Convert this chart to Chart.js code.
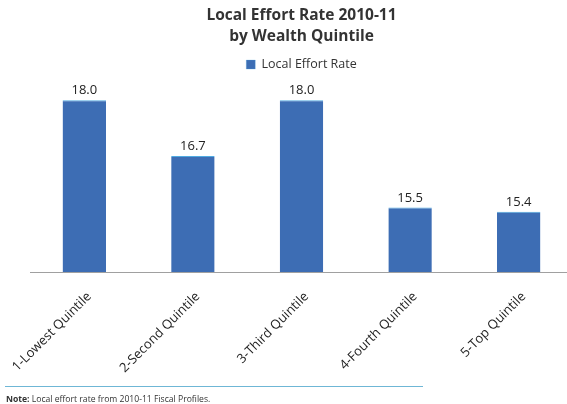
<!DOCTYPE html>
<html>
<head>
<meta charset="utf-8">
<script src="https://cdn.jsdelivr.net/npm/chart.js@4.4.1/dist/chart.umd.min.js"></script>
<style>
  html, body { margin: 0; padding: 0; background: #fff; overflow: hidden; }
  #wrap { position: relative; width: 567px; height: 404px; overflow: hidden; }
  #effortChart { position: absolute; left: 0; top: 0; }
  #note-line { position: absolute; left: 5px; top: 386px; width: 418px; height: 0; border-top: 1px solid #6fb7d6; }
  #note { position: absolute; left: 6px; top: 393px; font-family: "Open Sans", sans-serif; font-size: 8.6px; color: #333; }
</style>
</head>
<body>
<div id="wrap">
  <!-- plot runs a few px past the right edge, as in the printed figure -->
  <canvas id="effortChart" width="573" height="404"></canvas>
  <div id="note-line"></div>
  <div id="note"><b>Note:</b> Local effort rate from 2010-11 Fiscal Profiles.</div>
</div>
<script>
const quintiles = ['1-Lowest Quintile', '2-Second Quintile', '3-Third Quintile', '4-Fourth Quintile', '5-Top Quintile'];
const effortRates = [18.0, 16.7, 18.0, 15.5, 15.4];
const seriesName = 'Local Effort Rate';

const ctx = document.getElementById('effortChart').getContext('2d');

// value labels over each bar
const barValues = {
  id: 'barValues',
  afterDatasetsDraw(chart) {
    const c = chart.ctx;
    const meta = chart.getDatasetMeta(0);
    c.save();
    c.font = '13px "Open Sans", sans-serif';
    c.fillStyle = '#222';
    c.textAlign = 'center';
    c.textBaseline = 'bottom';
    meta.data.forEach((bar, i) => {
      c.fillText(effortRates[i].toFixed(1), bar.x, bar.y - 3);
    });
    c.restore();
  }
};

const effortChart = new Chart(ctx, {
  type: 'bar',
  data: {
    labels: quintiles,
    datasets: [{
      label: seriesName,
      data: effortRates,
      backgroundColor: 'rgb(61, 109, 180)',
      borderColor: 'rgb(80, 170, 225)',
      borderWidth: { top: 1, left: 0, right: 0, bottom: 0 },
      borderSkipped: 'bottom',
      categoryPercentage: 1.0,
      barPercentage: 0.4
    }]
  },
  options: {
    responsive: false,
    animation: false,
    layout: { padding: { left: 30, right: 0, top: 6, bottom: 0 } },
    plugins: {
      title: {
        display: true,
        text: ['Local Effort Rate 2010-11', 'by Wealth Quintile'],
        font: { family: '"Open Sans", sans-serif', size: 15.5, weight: 'bold', lineHeight: 1.3 },
        color: '#333',
        padding: { top: 0, bottom: 2 }
      },
      legend: {
        labels: {
          boxWidth: 9,
          boxHeight: 9,
          font: { family: '"Open Sans", sans-serif', size: 12.5 },
          color: '#333'
        }
      },
      tooltip: { enabled: false }
    },
    scales: {
      x: {
        grid: { display: false, drawTicks: false },
        border: { color: '#a0a0a0' },
        ticks: {
          maxRotation: 45,
          minRotation: 45,
          padding: 17,
          labelOffset: 5,
          color: '#222',
          font: { family: '"Open Sans", sans-serif', size: 13 }
        },
        // fixed band for the slanted category names, no extra side padding
        afterFit(scale) {
          scale.height = 132;
          scale.paddingLeft = 0;
          scale.paddingRight = 0;
        }
      },
      y: {
        display: false,
        min: 14,
        max: 18.45
      }
    }
  },
  plugins: [barValues]
});
</script>
</body>
</html>
